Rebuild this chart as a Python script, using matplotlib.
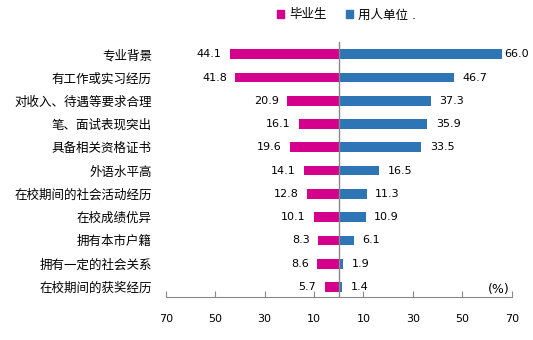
import matplotlib.pyplot as plt
from matplotlib.patches import Patch

plt.rcParams['font.family'] = ['DejaVu Sans', 'Noto Sans CJK SC']

categories = ['专业背景', '有工作或实习经历', '对收入、待遇等要求合理', '笔、面试表现突出',
              '具备相关资格证书', '外语水平高', '在校期间的社会活动经历', '在校成绩优异',
              '拥有本市户籍', '拥有一定的社会关系', '在校期间的获奖经历']
graduates = [44.1, 41.8, 20.9, 16.1, 19.6, 14.1, 12.8, 10.1, 8.3, 8.6, 5.7]
employers = [66.0, 46.7, 37.3, 35.9, 33.5, 16.5, 11.3, 10.9, 6.1, 1.9, 1.4]
xticks = [-70, -50, -30, -10, 10, 30, 50, 70]

pink = '#D4008C'
blue = '#2E75B6'
gray = '#888888'

fig = plt.figure(figsize=(5.33, 3.4), dpi=100)
ax = fig.add_axes([0.311, 0.126, 0.649, 0.75])

y = list(range(len(categories)))
ax.barh(y, [-g for g in graduates], height=0.42, color=pink)
ax.barh(y, employers, height=0.42, color=blue)

for i, g in enumerate(graduates):
    ax.annotate(f'{g:.1f}', (-g, i), xytext=(-6, 0), textcoords='offset points',
                ha='right', va='center', fontsize=8)
for i, e in enumerate(employers):
    off = 2 if e > 60 else 6
    ax.annotate(f'{e:.1f}', (e, i), xytext=(off, 0), textcoords='offset points',
                ha='left', va='center', fontsize=8)

ax.axvline(0, color=gray, lw=1)
ax.set_xlim(-70, 70)
ax.set_ylim(10.44, -0.52)
ax.set_xticks(xticks)
ax.set_xticklabels([str(abs(t)) for t in xticks], fontsize=8)
ax.set_yticks(y)
ax.set_yticklabels(categories, fontsize=9)
ax.tick_params(axis='y', length=0, pad=10)
ax.tick_params(axis='x', direction='in', length=4, color=gray, pad=12)

for s in ['top', 'right', 'left']:
    ax.spines[s].set_visible(False)
ax.spines['bottom'].set_color(gray)

fig.text(0.916, 0.15, '(%)', fontsize=9, va='center')

handles = [Patch(color=pink, label='毕业生'), Patch(color=blue, label='用人单位 .')]
fig.legend(handles=handles, loc='center', bbox_to_anchor=(0.65, 0.956), ncol=2,
           frameon=False, fontsize=9, handlelength=0.6, handleheight=0.6,
           handletextpad=0.4, columnspacing=1.5)

fig.savefig('out.png', dpi=100)
